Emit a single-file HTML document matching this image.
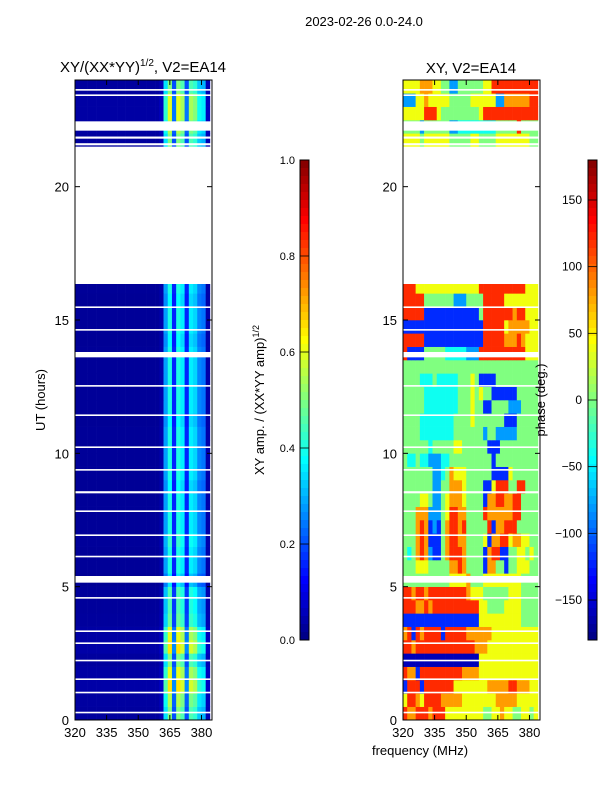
<!DOCTYPE html>
<html><head><meta charset="utf-8"><style>
html,body{margin:0;padding:0;background:#fff;}
svg{display:block;font-family:"Liberation Sans","DejaVu Sans",sans-serif;}
</style></head><body>
<svg id="fig" width="600" height="800" viewBox="0 0 600 800">
<text x="364" y="26" font-size="13" text-anchor="middle">2023-02-26 0.0-24.0</text>
<text x="143" y="72" font-size="15" text-anchor="middle">XY/(XX*YY)<tspan font-size="10" dy="-6">1/2</tspan><tspan dy="6">, V2=EA14</tspan></text>
<text x="471" y="73" font-size="15" text-anchor="middle">XY, V2=EA14</text>
<text transform="translate(45,400) rotate(-90)" font-size="13" text-anchor="middle">UT (hours)</text>
<text x="420" y="755" font-size="13" text-anchor="middle">frequency (MHz)</text>
<text transform="translate(264,400) rotate(-90)" font-size="13" text-anchor="middle">XY amp. / (XX*YY amp)<tspan font-size="9" dy="-5">1/2</tspan></text>
<g id="left"></g>
<g id="right"></g>
<g id="cb"></g>
<g id="axes"></g>
<text transform="translate(545,400) rotate(-90)" font-size="13" text-anchor="middle">phase (deg.)</text>
</svg>
<script>
// ---- data ----
const hourBins = 48; // 0.5 h bins
const freqStart = 320, freqStep = 2, nChan = 32;
const xTicks = [320,335,350,365,380];
const yTicks = [0,5,10,15,20];
const ampTicks = [0.0,0.2,0.4,0.6,0.8,1.0];
const phaseTicks = [-150,-100,-50,0,50,100,150];
// amplitude channel profile (320..384 MHz, 2 MHz)
const ampChan = [0.03,0.03,0.03,0.03,0.03,0.03,0.03,0.03,0.03,0.03,0.03,0.03,0.03,0.03,0.03,0.03,0.03,0.03,0.03,0.03,0.05,0.35,0.5,0.2,0.5,0.45,0.2,0.45,0.42,0.32,0.3,0.05];
// amplitude time scaling per 0.5h bin (null = flagged)
const ampRow = [1.0,1.1,1.3,1.2,1.0,1.3,1.2,0.95,0.9,0.9,0.7,0.8,0.8,0.85,0.8,0.8,0.8,0.75,0.8,0.8,0.8,0.8,0.75,0.8,0.8,0.8,0.8,0.8,0.75,0.8,0.8,0.75,0.8,null,null,null,null,null,null,null,null,null,null,1.0,1.1,1.2,1.2,1.0];
// phase levels 0..9 -> -180..180 per 0.5h bin, per 2 MHz channel
const phaseRows = [
"87788878886666666665566766556656","68876888877777666666667777766666","28882888888866666666777778877766",
"87728888888888777766666666666666","11111111111111111166666666666666","88788888888888888777666666666666",
"78287888828888877777766666666666","22222222222222222266666666665555","88877878888888888866555566665555",
"88788788888888876665555556665555","55555555555666675556666666665555","55566655555778755552775525566655",
"54578732257888755552788225566565","55578722257887755556277886776655","55578723257887855555827788855555",
"55577733356887755558777777885555","55556653356777655552778877885555","55555553355777655552268885588555",
"55555553345766655555522226555555","54454433344555555555525555555555","55555545555566555555222555555555",
"55554444444455555553553333355555","55554444444455556555555522255555","55555444444445556552255553335555",
"55555444444445556565522222255555","55554445444445556522225555555555","55555555555555555555555555555555",
"82222555554444433388888888888666","88888222222222222228888877787666","22222222222222222228888867777766",
"88888222222222222258888888788666","88888555555533355558888866666666","88866666666666666688888888888666",
"-","-","-","-","-","-","-","-","-","-",
"66665666666555556655556666666655","55553555555334444444445555585555","66666888655555555568888888888888",
"33366766666555556666663377777788","66667776655335555556688888888888"];
// flagged (white) time intervals in hours
const gapStart = [0.25,1.0,1.5,2.2,2.85,3.3,4.55,5.15,6.1,6.9,7.8,8.5,9.35,10.2,11.4,12.5,13.6,14.6,15.45,16.35,21.55,21.8,22.1,23.4,23.6];
const gapLen   = [0.06,0.06,0.06,0.06,0.06,0.06,0.06,0.25,0.06,0.06,0.06,0.08,0.06,0.06,0.06,0.06,0.2,0.06,0.06,5.15,0.08,0.08,0.35,0.06,0.06];

// ---- helpers ----
const NS="http://www.w3.org/2000/svg";
function jet(v){v=Math.max(0,Math.min(1,v));
 const r=Math.max(0,Math.min(1,1.5-Math.abs(4*v-3))),g=Math.max(0,Math.min(1,1.5-Math.abs(4*v-2))),b=Math.max(0,Math.min(1,1.5-Math.abs(4*v-1)));
 return `rgb(${Math.round(r*255)},${Math.round(g*255)},${Math.round(b*255)})`;}
function mk(tag,attrs,parent){const e=document.createElementNS(NS,tag);for(const k in attrs)e.setAttribute(k,attrs[k]);parent.appendChild(e);return e;}
const yTop=80,yBot=720,plotH=yBot-yTop;
function yS(h){return yBot-h/24*plotH;}
function xS(f,x0){return x0+(f-320)/65*137;}
function phaseNorm(level){return Math.max(0,Math.min(1,(level-0.5)/9));}
const panels=[{g:document.getElementById('left'),x0:75,kind:'amp'},{g:document.getElementById('right'),x0:403,kind:'phase'}];

panels.forEach(p=>{
 for(let r=0;r<hourBins;r++){
  for(let c=0;c<nChan;c++){
   let v=null;
   if(p.kind==='amp'){ if(ampRow[r]!==null) v=Math.min(1,ampChan[c]*ampRow[r]); }
   else { const s=phaseRows[r]; if(s!=='-') v=phaseNorm(+s[c]); }
   if(v===null) continue;
   const x1=xS(freqStart+c*freqStep,p.x0),x2=xS(freqStart+(c+1)*freqStep,p.x0);
   const y1=yS((r+1)*0.5),y2=yS(r*0.5);
   const re=mk('rect',{x:x1,y:y1,width:Math.min(x2,p.x0+137)-x1+0.3,height:y2-y1+0.3,fill:jet(v)},p.g);
   
   
  }
 }
 for(let i=0;i<gapStart.length;i++){
  const a=yS(gapStart[i]+gapLen[i]),b=yS(gapStart[i]);
  const gr=mk('rect',{x:p.x0,y:a,width:137,height:b-a,fill:'#fff'},p.g);
  
  
 }
});

// axes
const ax=document.getElementById('axes');
panels.forEach(p=>{
 mk('rect',{x:p.x0,y:yTop,width:137,height:plotH,fill:'none',stroke:'#000','stroke-width':1},ax);
 yTicks.forEach(t=>{const y=yS(t);
  mk('line',{x1:p.x0,x2:p.x0+5,y1:y,y2:y,stroke:'#000'},ax);
  mk('line',{x1:p.x0+137,x2:p.x0+132,y1:y,y2:y,stroke:'#000'},ax);
  const tx=mk('text',{x:p.x0-6,y:y+5,'font-size':13,'text-anchor':'end'},ax);tx.textContent=t;
  
  
 });
 xTicks.forEach(t=>{const x=xS(t,p.x0);
  mk('line',{x1:x,x2:x,y1:yBot,y2:yBot-5,stroke:'#000'},ax);
  mk('line',{x1:x,x2:x,y1:yTop,y2:yTop+5,stroke:'#000'},ax);
  const tx=mk('text',{x:x,y:yBot+17,'font-size':13,'text-anchor':'middle'},ax);tx.textContent=t;
  
  
 });
});

// colorbars
const cb=document.getElementById('cb');
[{x:300,ticks:ampTicks,lo:0,hi:1,fmt:t=>t.toFixed(1),lx:295,fs:11},{x:588,ticks:phaseTicks,lo:-180,hi:180,fmt:t=>(t<0?'\u2212'+(-t):''+t),lx:582,fs:12}].forEach(c=>{
 const n=60;
 for(let i=0;i<n;i++){
  const s=mk('rect',{x:c.x,y:160+i*8,width:9,height:8.3,fill:jet(1-(i+0.5)/n)},cb);
  
  
 }
 mk('rect',{x:c.x,y:160,width:9,height:480,fill:'none',stroke:'#000','stroke-width':1},cb);
 c.ticks.forEach(t=>{const y=640-(t-c.lo)/(c.hi-c.lo)*480;
  mk('line',{x1:c.x,x2:c.x+9,y1:y,y2:y,stroke:'#000','stroke-width':0.8},cb);
  const tx=mk('text',{x:c.lx,y:y+4,'font-size':c.fs,'text-anchor':'end'},cb);tx.textContent=c.fmt(t);
  
  
 });
});
</script>
</body></html>
